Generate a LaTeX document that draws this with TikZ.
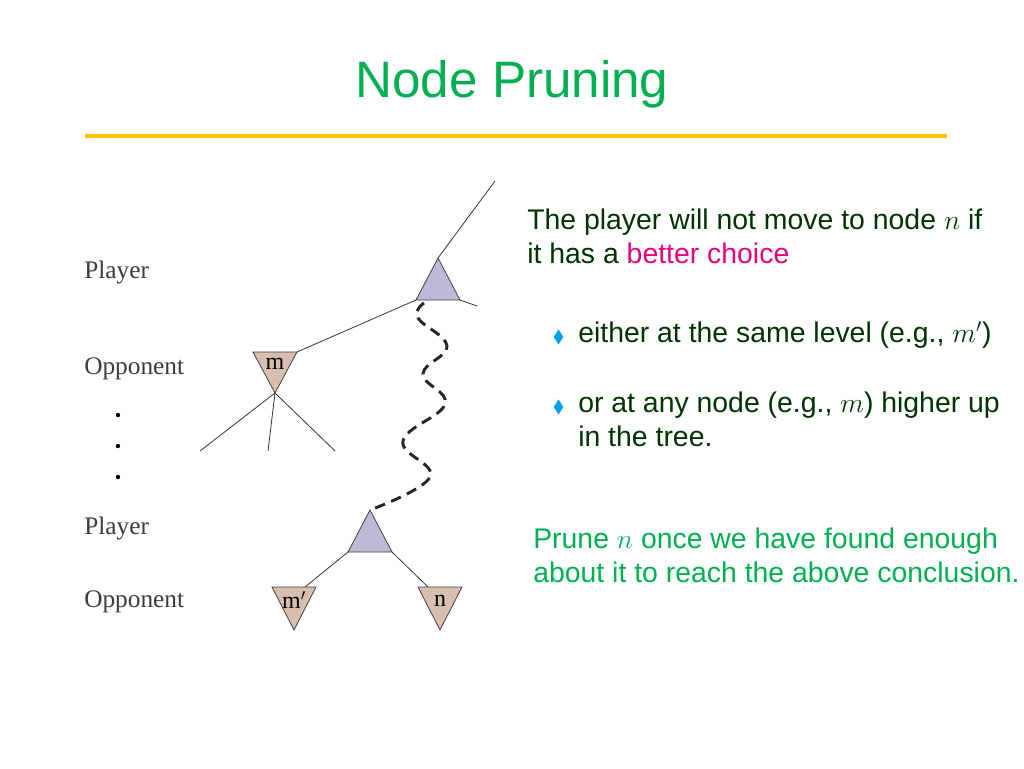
\documentclass[tikz,border=0pt]{standalone}
\usepackage{amssymb}
\usepackage{fontspec}
\setmainfont{Liberation Sans}
\newfontfamily\serifont{Liberation Serif}
\usetikzlibrary{positioning}
\definecolor{titlegreen}{RGB}{0,176,80}
\definecolor{textgreen}{RGB}{0,51,0}
\definecolor{hotpink}{RGB}{230,0,126}
\definecolor{bulletblue}{RGB}{0,160,230}
\definecolor{rulegold}{RGB}{255,192,0}
\definecolor{maxfill}{RGB}{190,185,215}
\definecolor{minfill}{RGB}{215,190,175}
\definecolor{labelgray}{RGB}{60,60,60}
\tikzset{
    edge/.style={draw=black!80, line width=0.6pt},
    maxtri/.style={fill=maxfill, draw=black!75, line width=0.6pt},
    mintri/.style={fill=minfill, draw=black!75, line width=0.6pt},
    level/.style={anchor=west, font=\serifont\fontsize{19}{21}\selectfont, text=labelgray, inner sep=0pt},
    tlabel/.style={font=\serifont\fontsize{18}{19}\selectfont, inner sep=0pt},
    body/.style={anchor=north west, align=left, text=textgreen, font=\fontsize{21.3}{25.5}\selectfont, inner sep=0pt},
}
\begin{document}
\begin{tikzpicture}[x=0.75pt, y=-0.75pt]
    \useasboundingbox (0,0) rectangle (1024,768);

    % title and rule
    \node[text=titlegreen, font=\fontsize{38.4}{42}\selectfont] (title) at (512,84) {Node Pruning};
    \draw[rulegold, line width=3pt] (85,136) -- (947,136);

    % level labels
    \node[level] (lp1) at (84,272) {Player};
    \node[level] (lo1) at (84,369) {Opponent};
    \foreach \y in {415,446,477}
        \fill[black] (118,\y) circle (2.2);
    \node[level] (lp2) at (84,528) {Player};
    \node[level] (lo2) at (84,602) {Opponent};

    % top player node
    \coordinate (pa) at (438,258);
    \coordinate (pl) at (416,300);
    \coordinate (pr) at (460,300);
    \coordinate (up) at (495,181);
    \coordinate (pout) at (477,306);
    \draw[edge] (pa) -- (up);
    \draw[edge] (pr) -- (pout);
    \filldraw[maxtri] (pa) -- (pl) -- (pr) -- cycle;

    % opponent node m
    \coordinate (ml) at (253,352);
    \coordinate (mr) at (297,352);
    \coordinate (mb) at (275,393);
    \draw[edge] (pl) -- (mr);
    \filldraw[mintri] (ml) -- (mr) -- (mb) -- cycle;
    \node[tlabel] (mlab) at (275,364) {m};
    \foreach \x in {200,268,335}
        \draw[edge] (mb) -- (\x,451);

    % lower player node
    \coordinate (qa) at (370,510);
    \coordinate (ql) at (348,552);
    \coordinate (qr) at (392,552);
    \filldraw[maxtri] (qa) -- (ql) -- (qr) -- cycle;

    % path down the tree
    \draw[black!85, line width=2.2pt, dash pattern=on 8pt off 5pt]
        plot[smooth, tension=0.7] coordinates {(424,303) (418,318) (447,346) (423,374) (445,404) (403,441) (430,477) (370,510)};

    % opponent nodes m' and n
    \coordinate (al) at (272,587);
    \coordinate (ar) at (316,587);
    \coordinate (ab) at (294,630);
    \coordinate (bl) at (418,587);
    \coordinate (br) at (462,587);
    \coordinate (bb) at (440,630);
    \draw[edge] (ql) -- (305,587);
    \draw[edge] (qr) -- (428,587);
    \filldraw[mintri] (al) -- (ar) -- (ab) -- cycle;
    \filldraw[mintri] (bl) -- (br) -- (bb) -- cycle;
    \node[tlabel] (alab) at (294,600) {m$'$};
    \node[tlabel] (blab) at (440,601) {n};

    % text
    \node[body] (intro) at (527,209) {The player will not move to node $n$ if\\it has a \textcolor{hotpink}{better choice}};
    \node[body] (b1) at (578,322) {either at the same level (e.g., $m'$)};
    \node[body] (b2) at (578,392) {or at any node (e.g., $m$) higher up\\in the tree.};
    \foreach \n in {b1,b2}
        \node[bulletblue, left=10pt of \n.north west, anchor=north east, yshift=-6pt, font=\fontsize{13}{14}\selectfont, inner sep=0pt] (dot-\n) {$\blacklozenge$};
    \node[body, text=titlegreen] (prune) at (533,528) {Prune $n$ once we have found enough\\about it to reach the above conclusion.};
\end{tikzpicture}
\end{document}
